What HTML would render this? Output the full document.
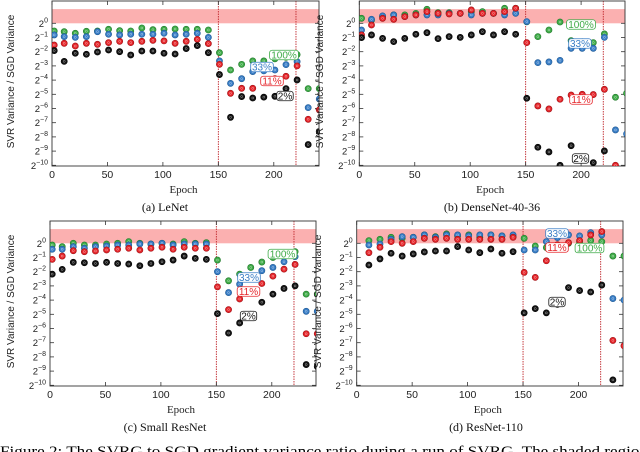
<!DOCTYPE html>
<html><head><meta charset="utf-8">
<style>
html,body{margin:0;padding:0;background:#fff;}
svg{display:block;font-family:"Liberation Sans","DejaVu Sans",sans-serif;}
.serif{font-family:"Liberation Serif","DejaVu Serif",serif;}
</style></head>
<body>
<svg id="fig" width="640" height="452" viewBox="0 0 640 452">
<text class="serif" x="0" y="456" font-size="15" textLength="648" lengthAdjust="spacingAndGlyphs">Figure 2: The SVRG to SGD gradient variance ratio during a run of SVRG. The shaded region</text>
</svg>
<script>
const epochsFull = [2,11,21,31,41,51,61,71,81,91,101,111,121,131,141,151,161,171,181,191,201,211,221,231,241];
const epochsD = [11,21,31,41,51,61,71,81,91,101,111,121,131,141,151,161,171,181,191,201,211,221,231,241];
const xTicks = [0,50,100,150,200];
const yTicks = [0,-1,-2,-3,-4,-5,-6,-7,-8,-9,-10];
const seriesNames = ["2%","11%","33%","100%"];

const aBlack = [-1.92,-2.68,-2.11,-2.18,-2.02,-1.88,-2.0,-2.23,-1.95,-1.95,-2.11,-2.16,-1.78,-1.57,-2.07,-3.61,-6.62,-5.16,-5.26,-5.2,-5.14,-4.6,-3.99,-8.54,-7.63];
const aRed = [-1.53,-1.41,-1.6,-1.41,-1.48,-1.36,-1.27,-1.36,-1.27,-1.2,-1.24,-1.41,-1.27,-1.13,-1.43,-2.89,-4.93,-4.58,-4.58,-4.04,-3.9,-3.73,-3.0,-6.76,-6.1];
const aBlue = [-0.82,-0.94,-0.99,-0.94,-0.59,-0.77,-0.82,-0.77,-0.77,-0.77,-0.7,-0.82,-0.77,-0.7,-0.99,-2.65,-4.23,-3.9,-3.4,-3.35,-3.29,-2.91,-2.7,-5.94,-5.33];
const aGreen = [-0.54,-0.59,-0.7,-0.56,-0.54,-0.42,-0.52,-0.54,-0.33,-0.45,-0.42,-0.4,-0.42,-0.42,-0.47,-2.07,-3.29,-2.89,-2.65,-2.65,-2.5,-2.4,-2.2,-4.6,-4.6];

const bBlack = [-1.01,-0.82,-1.06,-1.29,-1.06,-0.77,-0.66,-1.08,-0.94,-0.99,-0.82,-0.59,-0.82,-0.59,-0.77,-5.28,-8.73,-9.06,-10,-8.62,-9.5,-9.81,-8.99,-11,-11];
const bRed = [-0.82,-0.12,0.35,0.28,0.47,0.59,0.82,0.7,0.66,0.7,0.94,0.7,0.7,0.82,1.06,-1.36,-5.82,-6.03,-5.35,-5.05,-5.0,-5.02,-4.65,-10,-11];
const bBlue = [-0.47,0.28,0.52,0.59,0.47,0.59,0.59,0.59,0.7,0.7,0.59,0.7,0.7,0.59,0.7,0.12,-2.77,-2.72,-2.61,-1.76,-1.76,-1.76,-0.99,-7.51,-7.79];
const bGreen = [0.35,0.23,0.47,0.59,0.59,0.7,0.99,0.75,0.75,0.7,0.82,0.82,0.7,1.06,1.06,0.1,-0.94,-0.47,0.09,-1.22,-1.3,-1.36,-0.75,-5.21,-4.93];

const cBlack = [-2.17,-1.84,-1.34,-1.37,-1.42,-1.34,-1.42,-1.46,-1.58,-1.42,-1.3,-1.18,-0.9,-1.06,-1.13,-4.95,-6.32,-5.61,-5.0,-4.15,-3.58,-3.18,-3.0,-8.54,-8.68];
const cRed = [-1.13,-0.9,-0.52,-0.59,-0.54,-0.47,-0.42,-0.35,-0.47,-0.35,-0.28,-0.42,-0.28,-0.35,-0.35,-3.07,-4.67,-3.92,-3.4,-2.83,-2.31,-1.82,-1.49,-6.37,-6.37];
const cBlue = [-0.42,-0.42,-0.24,-0.35,-0.24,-0.19,-0.12,-0.12,-0.05,-0.05,0,-0.12,-0.05,-0.05,-0.05,-2.0,-3.47,-2.88,-2.5,-1.93,-1.7,-1.3,-0.94,-4.79,-4.79];
const cGreen = [-0.12,-0.24,0,-0.12,-0.12,-0.05,0,0.12,0,-0.05,0,-0.05,0.12,0,0.05,-1.18,-2.64,-2.17,-1.7,-1.32,-1.0,-0.75,-0.59,-3.58,-3.58];

const dBlack = [-1.53,-1.1,-0.7,-0.9,-0.75,-0.61,-0.54,-0.54,-0.23,-0.47,-0.66,-0.4,-0.7,-0.59,-4.9,-4.6,-4.9,-4.3,-3.12,-3.33,-3.43,-2.94,-9.62,-11];
const dRed = [-0.66,-0.28,0.12,0,0.12,0.35,0.28,0.35,0.28,0.28,0.28,0.28,0.28,0.42,-2.05,-2.4,-1.23,-0.1,0.05,0.19,0.59,0.83,-6.84,-7.22];
const dBlue = [-0.12,-0.05,0.28,0.47,0.42,0.59,0.42,0.59,0.59,0.52,0.59,0.59,0.52,0.59,-0.47,-0.47,0.12,0.4,0.59,0.52,0.75,0.59,-3.89,-4.0];
const dGreen = [0.19,0.28,0.42,0.35,0.42,0.59,0.47,0.66,0.52,0.59,0.42,0.59,0.52,0.47,0.35,-0.19,-0.3,-0.1,0,0.1,0.2,0.12,-0.9,-0.9];

const NS = "http://www.w3.org/2000/svg";
const svg = document.getElementById("fig");
const COLORS = ["#151515","#e5262b","#3a7ec6","#3fab48"];
const RING = ["#000","#a01015","#1f5a96","#237a2d"];

function mk(tag, attrs, parent){
  const e = document.createElementNS(NS, tag);
  for (const k in attrs) e.setAttribute(k, attrs[k]);
  parent.appendChild(e);
  return e;
}

const panels = [
  {id:"lenet", x0:52, y0:23.3, top:1, bottom:166, right:319, epochs:epochsFull, series:[aBlack,aRed,aBlue,aGreen], title:"(a) LeNet", tickY:178, epochY:193, capY:211, capX:165, ytitleX:14,
   labels:[[284,55,"100%",3],[262,67,"33%",2],[272,81,"11%",1],[285,96,"2%",0]]},
  {id:"densenet", x0:359.3, y0:23.3, top:1, bottom:166, right:625, epochs:epochsFull, series:[bBlack,bRed,bBlue,bGreen], title:"(b) DenseNet-40-36", tickY:178, epochY:193, capY:211, capX:492, ytitleX:323,
   labels:[[581,24.5,"100%",3],[580,43.5,"33%",2],[581,99.5,"11%",1],[580.5,158.5,"2%",0]]},
  {id:"small-resnet", x0:50, y0:243.3, top:221, bottom:386, right:316, epochs:epochsFull, series:[cBlack,cRed,cBlue,cGreen], title:"(c) Small ResNet", tickY:398, epochY:413, capY:431, capX:165, ytitleX:14,
   labels:[[282.5,254,"100%",3],[249,277.5,"33%",2],[248.5,291.5,"11%",1],[248.5,316,"2%",0]]},
  {id:"resnet-110", x0:356.7, y0:243.3, top:221, bottom:386, right:623, epochs:epochsD, series:[dBlack,dRed,dBlue,dGreen], title:"(d) ResNet-110", tickY:398, epochY:413, capY:431, capX:486, ytitleX:321,
   labels:[[557,233.5,"33%",2],[557,247.5,"11%",1],[589.5,248,"100%",3],[557,302,"2%",0]]}
];

panels.forEach((p, pi) => {
  const pxE = 1.109, pyE = 14.2;
  const X = e => p.x0 + e*pxE;
  const Y = v => p.y0 - v*pyE;
  const g = mk("g", {}, svg);
  
  
  const clipId = "clip" + pi;
  const cp = mk("clipPath", {id:clipId}, g);
  mk("rect", {x:p.x0, y:p.top, width:p.right-p.x0, height:p.bottom-p.top}, cp);
  const band = mk("rect", {x:p.x0, y:Y(1), width:p.right-p.x0, height:Y(0)-Y(1), fill:"#fbb0b0"}, g);
  
  
  [150,220].forEach(ep => {
    const l = mk("line", {x1:X(ep), x2:X(ep), y1:p.top, y2:p.bottom, stroke:"#c0282d", "stroke-width":0.9, "stroke-dasharray":"1.5,1"}, g);
    
    
  });
  const fr = mk("rect", {x:p.x0, y:p.top, width:p.right-p.x0, height:p.bottom-p.top, fill:"none", stroke:"#333", "stroke-width":0.9}, g);
  
  
  yTicks.forEach(t => {
    const y = Y(t);
    mk("line", {x1:p.x0, x2:p.x0+4, y1:y, y2:y, stroke:"#333", "stroke-width":0.8}, g);
    mk("line", {x1:p.right-4, x2:p.right, y1:y, y2:y, stroke:"#333", "stroke-width":0.8}, g);
    const tx = mk("text", {x:p.x0-4, y:y+3.5, "font-size":9.5, "text-anchor":"end", fill:"#222"}, g);
    
    
    tx.appendChild(document.createTextNode("2"));
    const sup = mk("tspan", {"font-size":7, dy:-4.5}, tx);
    sup.textContent = t === 0 ? "0" : "\u2212" + (-t);
  });
  xTicks.forEach(t => {
    const x = X(t);
    mk("line", {x1:x, x2:x, y1:p.bottom, y2:p.bottom-4, stroke:"#333", "stroke-width":0.8}, g);
    mk("line", {x1:x, x2:x, y1:p.top, y2:p.top+4, stroke:"#333", "stroke-width":0.8}, g);
    const tx = mk("text", {x:x, y:p.tickY, "font-size":10.5, "text-anchor":"middle", fill:"#222"}, g);
    
    
    tx.textContent = t;
  });
  const xt = mk("text", {x:(p.x0+p.right)/2-2, y:p.epochY, "font-size":11, "text-anchor":"middle", fill:"#222", class:"serif"}, g);
  
  
  xt.textContent = "Epoch";
  const yt = mk("text", {x:0, y:0, "font-size":10, "text-anchor":"middle", fill:"#222", transform:`translate(${p.ytitleX},${(p.top+p.bottom)/2-2}) rotate(-90)`}, g);
  
  
  yt.textContent = "SVR Variance / SGD Variance";
  const cap = mk("text", {x:p.capX, y:p.capY, "font-size":12, "text-anchor":"middle", fill:"#111", class:"serif"}, g);
  
  
  cap.textContent = p.title;
  const pg = mk("g", {"clip-path":`url(#${clipId})`}, g);
  [3,2,1,0].forEach(si => {
    const vals = p.series[si];
    vals.forEach((v, i) => {
      const c = mk("circle", {cx:X(p.epochs[i]), cy:Y(v), r:3.1, fill:COLORS[si], stroke:RING[si], "stroke-width":0.6}, pg);
      
      
      mk("circle", {cx:X(p.epochs[i]), cy:Y(v), r:1, fill:"none", stroke:"#fff", "stroke-opacity":0.6, "stroke-width":0.5}, pg);
    });
  });
  p.labels.forEach(([cx, cy, txt, si]) => {
    const w = txt.length*6.2 + 4, h = 9.5;
    const lg = mk("g", {}, g);
    
    
    mk("rect", {x:cx-w/2, y:cy-h/2, width:w, height:h, rx:2.5, fill:"#fff", stroke:COLORS[si], "stroke-width":0.8}, lg);
    const t = mk("text", {x:cx, y:cy+3.6, "font-size":10, "text-anchor":"middle", fill:COLORS[si]}, lg);
    t.textContent = txt;
  });
});
</script>
</body></html>
